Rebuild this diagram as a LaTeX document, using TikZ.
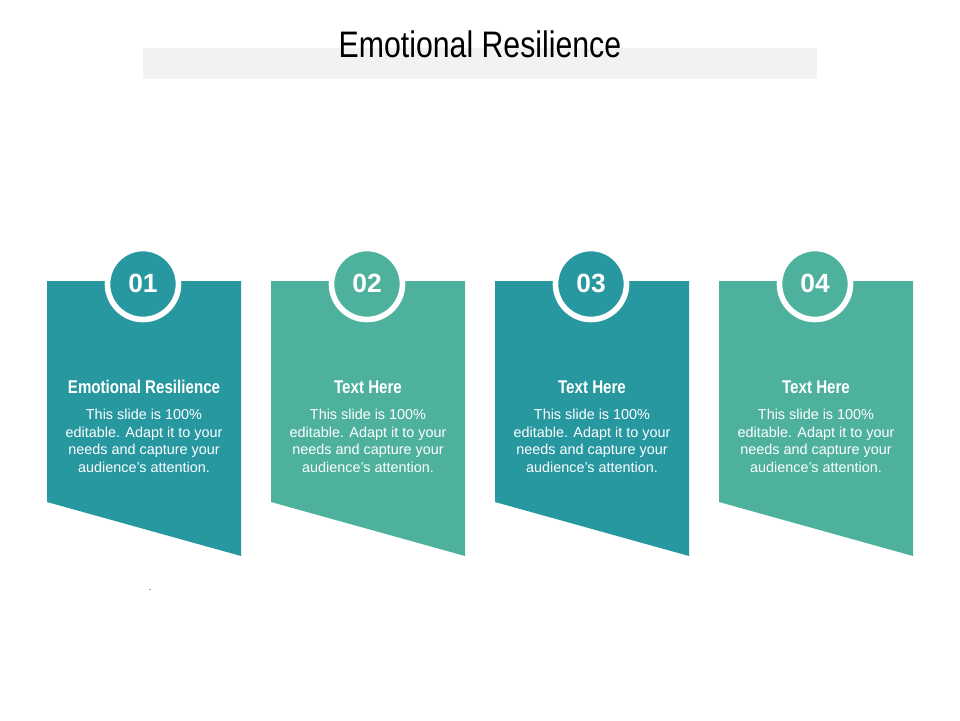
\documentclass[tikz,border=0pt]{standalone}
\usepackage{fontspec}
\setmainfont{Liberation Sans}
\newfontfamily\narrowfont[FakeStretch=0.82]{Liberation Sans}
\definecolor{teal}{HTML}{2797A0}
\definecolor{mint}{HTML}{4DB19E}
\definecolor{barcol}{HTML}{F2F2F2}
\begin{document}
\begin{tikzpicture}[x=0.02cm,y=-0.02cm]

\tikzset{badge/.style = {shape=circle,draw=white,line width=3.2pt,minimum size=67\pgflinewidth,inner sep=0pt,text=white,font=\bfseries\fontsize{15}{15}\selectfont}}
\tikzset{head/.style = {text=white,font=\narrowfont\bfseries\fontsize{10.5}{12}\selectfont}}
\tikzset{body/.style = {text=white,align=center,font=\fontsize{8.2}{10}\selectfont}}
\useasboundingbox (0,0) rectangle (960,720);
%title
\fill[barcol] (143,48) rectangle (817,79);
\node[font=\narrowfont\fontsize{21}{24}\selectfont] (title) at (480,44) {Emotional Resilience};
%panels
\foreach \i/\x/\c/\t in {1/47/teal/Emotional Resilience,2/271/mint/Text Here,3/495/teal/Text Here,4/719/mint/Text Here}{
  \fill[\c] (\x,281) -- (\x+194,281) -- (\x+194,556) -- (\x,502) -- cycle;
  \node[badge,fill=\c,minimum size=1.42cm] (b\i) at (\x+96,284) {};
  \node[text=white,font=\bfseries\fontsize{15}{15}\selectfont] (n\i) at (\x+96,283) {0\i};
  \node[head] (h\i) at (\x+97,387) {\t};
  \node[body] (d\i) at (\x+97,441) {This slide is 100\%\\editable. Adapt it to your\\needs and capture your\\audience's attention.};
}
\node[font=\tiny,inner sep=0pt] (dot) at (150,590) {.};

\end{tikzpicture}
\end{document}
